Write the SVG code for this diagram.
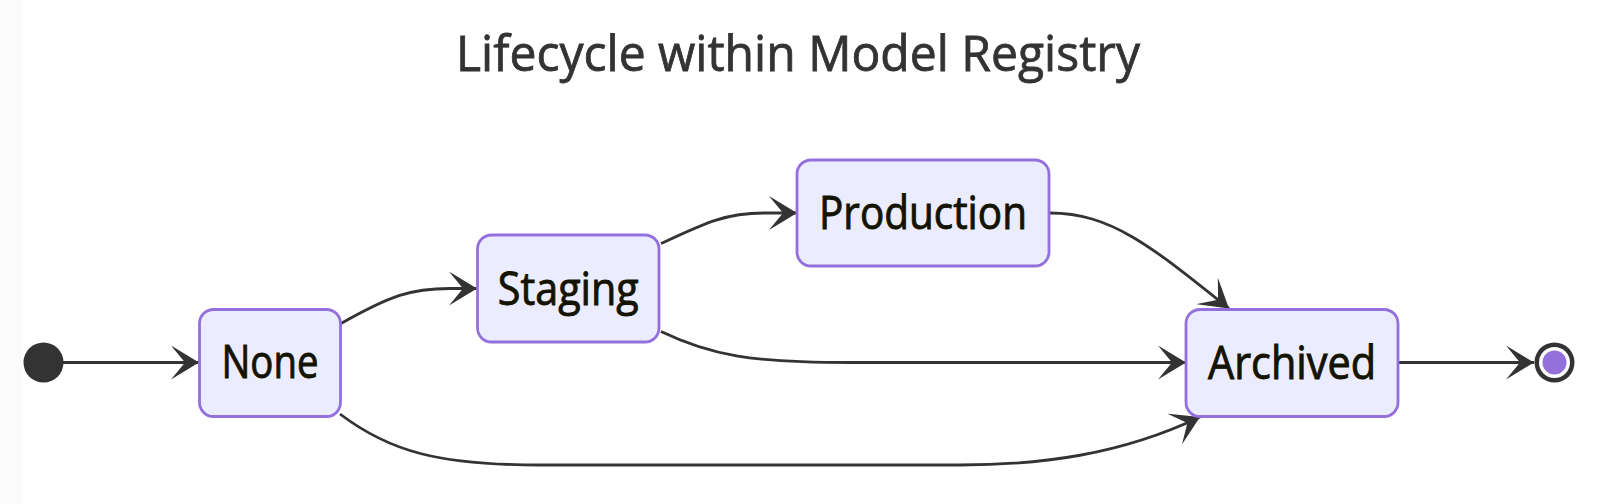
<svg xmlns="http://www.w3.org/2000/svg" width="1600" height="504" viewBox="0 0 1600 504">
<defs>
<style>
.node rect{fill:#ECECFF;stroke:#9370DB;stroke-width:2.8}
.label{font-family:"Trebuchet MS","Open Sans","Noto Sans",sans-serif;font-size:45px;fill:#131300;stroke:#131300;stroke-width:0.9;text-anchor:middle}
.title{font-family:"Trebuchet MS","Open Sans","Noto Sans",sans-serif;font-size:50px;fill:#333333;stroke:#333333;stroke-width:0.8;text-anchor:middle}
.edge{fill:none;stroke:#333333;stroke-width:2.8;marker-end:url(#barb)}
</style>
<marker id="barb" markerUnits="userSpaceOnUse" markerWidth="28" markerHeight="34" viewBox="0 0 28 34" refX="28" refY="17" orient="auto">
<path d="M28,17 L0,0 L14,17 L0,34 Z" fill="#333333"/>
</marker>
</defs>
<rect x="0" y="0" width="1600" height="504" fill="#ffffff"/>
<rect x="0" y="0" width="22" height="504" fill="#fbfbfb"/>
<text class="title" x="798" y="71" textLength="684" lengthAdjust="spacingAndGlyphs">Lifecycle within Model Registry</text>
<g id="connectors">
<path class="edge" d="M63,362.5 L199,362.5"/>
<path class="edge" d="M341,323.5 C390,296 410,288.5 450,288.5 L477,288.5"/>
<path class="edge" d="M661,243.5 C705,223 725,213 765,213 L797,213"/>
<path class="edge" d="M661,331.5 C710,355 750,362.5 850,362.5 L1186,362.5"/>
<path class="edge" d="M340,414 C390,452 440,465 540,465 L960,465 C1040,465 1120,455 1200,417"/>
<path class="edge" d="M1050,213 C1110,213 1150,245 1229,308.5"/>
<path class="edge" d="M1398,362.5 L1534,362.5"/>
</g>
<g id="start">
<circle cx="43.5" cy="362.5" r="20" fill="#333333"/>
</g>
<g id="None" class="node">
<rect x="199.5" y="309.5" width="141" height="107" rx="14" ry="14"/>
<text class="label" x="270" y="378" textLength="97" lengthAdjust="spacingAndGlyphs">None</text>
</g>
<g id="Staging" class="node">
<rect x="477.5" y="235" width="181.5" height="107" rx="14" ry="14"/>
<text class="label" x="568.3" y="304.5" textLength="141" lengthAdjust="spacingAndGlyphs">Staging</text>
</g>
<g id="Production" class="node">
<rect x="797" y="160" width="252" height="106" rx="14" ry="14"/>
<text class="label" x="923" y="229" textLength="208" lengthAdjust="spacingAndGlyphs">Production</text>
</g>
<g id="Archived" class="node">
<rect x="1186" y="309.5" width="212" height="107" rx="14" ry="14"/>
<text class="label" x="1292" y="378.5" textLength="168" lengthAdjust="spacingAndGlyphs">Archived</text>
</g>
<g id="end">
<circle cx="1554.5" cy="362.5" r="20" fill="#333333"/>
<circle cx="1554.5" cy="362.5" r="15.5" fill="#ffffff"/>
<circle cx="1554.5" cy="362.5" r="12" fill="#9370DB"/>
</g>
</svg>
